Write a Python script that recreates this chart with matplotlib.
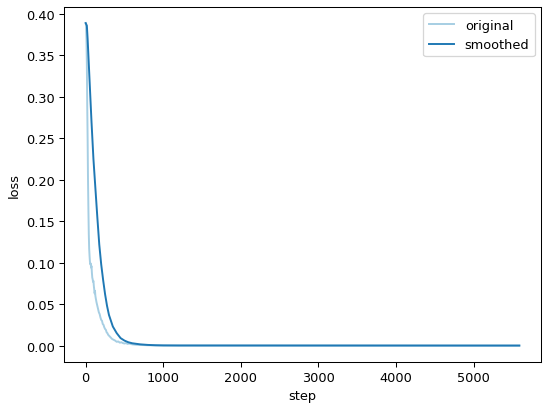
import matplotlib
matplotlib.use("Agg")
import matplotlib.pyplot as plt

# original loss curve
orig_steps = [0, 5, 10, 15, 20, 25, 30, 35, 40, 45, 50, 55, 60, 65, 70, 75, 80, 85, 90, 95,
              100, 105, 110, 115, 120, 125, 130, 140, 150, 160, 170, 180, 190, 200, 210, 220,
              230, 240, 250, 260, 270, 280, 290, 300, 320, 340, 360, 380, 400, 420, 440, 460,
              480, 500, 520, 540, 560, 600, 650, 700, 800, 900, 1000, 5590]
orig_loss = [0.389, 0.386, 0.37, 0.34, 0.29, 0.25, 0.20, 0.165, 0.135, 0.117, 0.108, 0.101,
             0.098, 0.099, 0.094, 0.096, 0.088, 0.082, 0.080, 0.077, 0.078, 0.072, 0.068,
             0.063, 0.066, 0.060, 0.057, 0.052, 0.048, 0.044, 0.040, 0.038, 0.034, 0.031,
             0.030, 0.026, 0.025, 0.022, 0.020, 0.019, 0.016, 0.015, 0.013, 0.012, 0.010,
             0.008, 0.007, 0.006, 0.0045, 0.005, 0.0035, 0.004, 0.003, 0.0025, 0.003, 0.002,
             0.0025, 0.0015, 0.001, 0.0008, 0.0004, 0.0002, 0.0001, 0.0]

# smoothed loss curve
smooth_steps = [0, 15, 25, 50, 75, 100, 125, 150, 175, 200, 225, 250, 275, 300, 350, 400,
                450, 500, 550, 600, 700, 800, 900, 1000, 1200, 5590]
smooth_loss = [0.389, 0.386, 0.37, 0.32, 0.27, 0.225, 0.19, 0.155, 0.122, 0.098, 0.079,
               0.062, 0.048, 0.037, 0.023, 0.015, 0.009, 0.006, 0.004, 0.0028, 0.0015,
               0.0008, 0.0004, 0.0002, 0.0001, 0.0]

dpi = 93
fig = plt.figure(figsize=(550 / dpi, 409 / dpi), dpi=dpi)
ax = fig.add_axes([64 / 550, 1 - 362.7 / 409, (541 - 64) / 550, (362.7 - 8) / 409])

ax.plot(orig_steps, orig_loss, color="#a6cee3", label="original")
ax.plot(smooth_steps, smooth_loss, color="#1f78b4", label="smoothed")

ax.set_xlabel("step")
ax.set_ylabel("loss")
ax.legend(loc="upper right")

fig.savefig("out.png", dpi=dpi)
